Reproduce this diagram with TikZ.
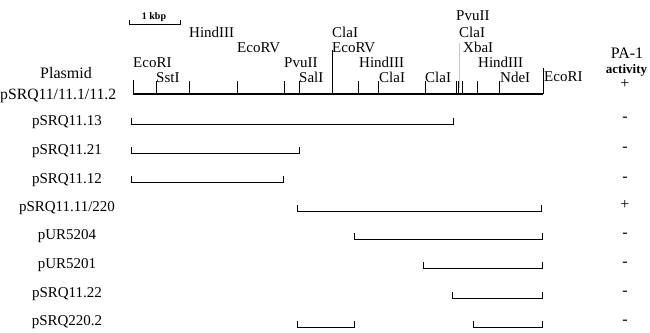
\documentclass[tikz,border=0pt]{standalone}
\usepackage{fontspec}
\setmainfont{Liberation Serif}
\begin{document}
\begin{tikzpicture}[x=1pt,y=-1pt,
  site/.style={font=\fontsize{15}{16}\selectfont, inner sep=0pt, anchor=base west},
  rowlab/.style={font=\fontsize{15}{16}\selectfont, inner sep=0pt, anchor=base},
  sign/.style={font=\fontsize{16}{17}\selectfont, inner sep=0pt, anchor=base},
  tick/.style={line width=0.8pt},
  brk/.style={line width=0.9pt},
  mainline/.style={line width=2.2pt}]
\useasboundingbox (0,0) rectangle (650,332);

% scale bar
\coordinate (s1) at (129,20);
\coordinate (s2) at (180,20);
\draw[line width=0.8pt] (s1) -- ++(0,4) -| (s2);
\node[font=\bfseries\fontsize{10}{12}\selectfont, inner sep=0pt, anchor=base] (kbp) at (154,19) {1 kbp};

% main map
\coordinate (m0) at (133,94);
\coordinate (m1) at (543,94);
\draw[mainline] (m0) -- (m1);
\foreach \x in {156,189,237,284,299,358,378,425,456,458.5,462,477,499}
  \draw[tick] (\x,94) -- (\x,81);
\draw[tick] (133,94) -- (133,80);
\draw[tick] (543,94) -- (543,68);
\draw[line width=0.6pt] (332,94) -- (332,50);
\draw[gray!45, line width=0.4pt] (459,43) -- (459,88);

% site labels
\node[site] (ecoRIa) at (133,67) {EcoRI};
\node[site] (sst) at (156,82) {SstI};
\node[site] (hindA) at (189,37) {HindIII};
\node[site] (ecoRVa) at (237,52) {EcoRV};
\node[site] (pvuA) at (284,67) {PvuII};
\node[site] (sal) at (299,82) {SalI};
\node[site] (claA) at (332,37) {ClaI};
\node[site] (ecoRVb) at (332,52) {EcoRV};
\node[site] (hindB) at (359,67) {HindIII};
\node[site] (claB) at (379,82) {ClaI};
\node[site] (claC) at (425,82) {ClaI};
\node[site] (pvuB) at (456,20) {PvuII};
\node[site] (claD) at (459,37) {ClaI};
\node[site] (xba) at (463,52) {XbaI};
\node[site] (hindC) at (478,67) {HindIII};
\node[site] (nde) at (500,82) {NdeI};
\node[site] (ecoRIb) at (544,81) {EcoRI};

% header
\node[rowlab, font=\fontsize{16}{17}\selectfont] (plasmid) at (66,78) {Plasmid};
\node[rowlab, font=\fontsize{15.7}{17}\selectfont, anchor=base west] (main) at (0,99) {pSRQ11/11.1/11.2};
\node[font=\fontsize{16}{17}\selectfont, inner sep=0pt, anchor=base] (pa) at (627,58.5) {PA-1};
\node[font=\bfseries\fontsize{13}{14}\selectfont, inner sep=0pt, anchor=base] (act) at (626.5,73) {activity};
\node[sign] (s0) at (625,88) {+};

% rows
\foreach \n/\lab/\y in {1/pSRQ11.13/125,2/pSRQ11.21/154,3/pSRQ11.12/183,4/pSRQ11.11\slash 220/211,5/pUR5204/239,6/pUR5201/268,7/pSRQ11.22/297,8/pSRQ220.2/325}
  \node[rowlab] (r\n) at (67,\y) {\lab};

\draw[brk] (131,118) -- (131,124) -- (453,124) -- (453,118);
\draw[brk] (131,147) -- (131,153) -- (299,153) -- (299,147);
\draw[brk] (131,176) -- (131,182) -- (283,182) -- (283,176);
\draw[brk] (297,205) -- (297,211) -- (541,211) -- (541,205);
\draw[brk] (354,233) -- (354,239) -- (542,239) -- (542,233);
\draw[brk] (423,262) -- (423,268) -- (542,268) -- (542,262);
\draw[brk] (452,292) -- (452,298) -- (542,298) -- (542,292);
\draw[brk] (297,321) -- (297,327) -- (354,327) -- (354,321);
\draw[brk] (473,321) -- (473,327) -- (542,327) -- (542,321);

\foreach \n/\s/\y in {1/-/121,2/-/151,3/-/181,4/+/209,5/-/237,6/-/266,7/-/295,8/-/324}
  \node[sign] (g\n) at (625,\y) {\s};
\end{tikzpicture}
\end{document}
